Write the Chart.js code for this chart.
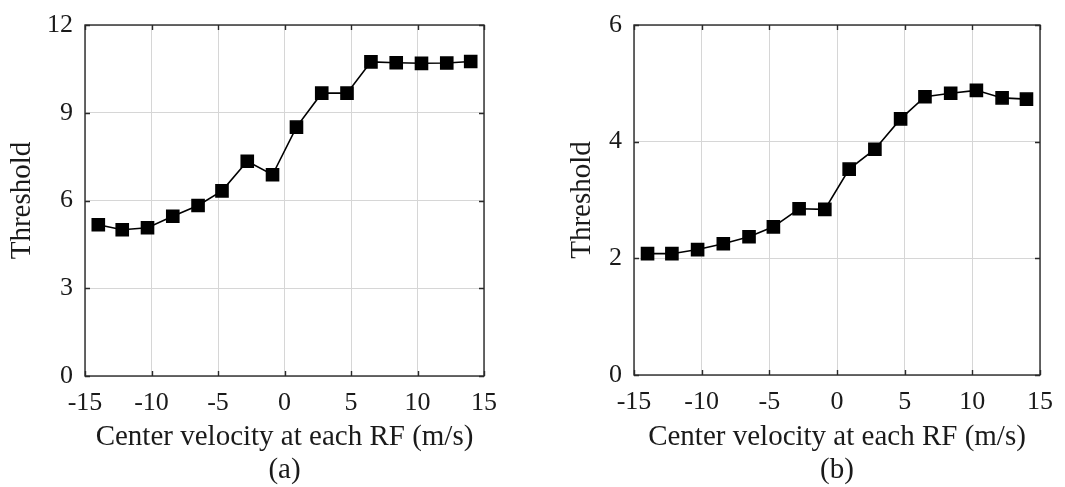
<!DOCTYPE html>
<html>
<head>
<meta charset="utf-8">
<script src="https://cdn.jsdelivr.net/npm/chart.js@4/dist/chart.umd.min.js"></script>
<style>
  html, body { margin: 0; padding: 0; background: #fff; }
  #wrap { position: relative; width: 1065px; height: 487px; }
  .box { position: absolute; top: 0; height: 487px; }
</style>
</head>
<body>
<div id="wrap">
  <div class="box" style="left:0;width:532px"><canvas id="chartA"></canvas></div>
  <div class="box" style="left:532px;width:533px"><canvas id="chartB"></canvas></div>
</div>
<script>
// center velocity of each RF (m/s), same for both panels
const velocities = [-14.0, -12.2, -10.3, -8.4, -6.5, -4.7, -2.8, -0.9, 0.9, 2.8, 4.7, 6.5, 8.4, 10.3, 12.2, 14.0];
const thresholdA = [5.17, 5.0, 5.07, 5.46, 5.83, 6.33, 7.34, 6.88, 8.51, 9.67, 9.67, 10.74, 10.71, 10.69, 10.70, 10.75];
const thresholdB = [2.08, 2.08, 2.15, 2.25, 2.37, 2.54, 2.85, 2.84, 3.53, 3.87, 4.39, 4.77, 4.83, 4.88, 4.75, 4.73];
const xTicks = [-15, -10, -5, 0, 5, 10, 15];
const yTicksA = [0, 3, 6, 9, 12];
const yTicksB = [0, 2, 4, 6];

const serif = "'Liberation Serif', 'Times New Roman', serif";
const ink = '#1a1a1a';

// box round the plot + small inward tick marks (matlab style)
const frame = {
    id: 'frame',
    beforeDatasetsDraw(chart) {
        const { ctx, chartArea: a, scales } = chart;
        ctx.save();
        ctx.strokeStyle = '#2a2a2a';
        ctx.lineWidth = 1.4;
        ctx.beginPath();
        scales.x.ticks.forEach(t => {
            const px = Math.round(scales.x.getPixelForValue(t.value)) + 0.5;
            ctx.moveTo(px, a.bottom); ctx.lineTo(px, a.bottom - 5);
            ctx.moveTo(px, a.top); ctx.lineTo(px, a.top + 5);
        });
        scales.y.ticks.forEach(t => {
            const py = Math.round(scales.y.getPixelForValue(t.value)) + 0.5;
            ctx.moveTo(a.left, py); ctx.lineTo(a.left + 5, py);
            ctx.moveTo(a.right, py); ctx.lineTo(a.right - 5, py);
        });
        ctx.stroke();
        ctx.strokeRect(a.left, a.top, a.right - a.left, a.bottom - a.top);
        ctx.restore();
    }
};

function makeChart(id, values, yTicks, yMax, caption, yWidth, padRight, xHeight, yTitlePad) {
    const points = velocities.map((v, i) => ({ x: v, y: values[i] }));
    return new Chart(document.getElementById(id), {
        type: 'line',
        data: {
            datasets: [{
                data: points,
                borderColor: '#000',
                backgroundColor: '#000',
                borderWidth: 1.6,
                pointStyle: 'rect',
                pointRadius: 8.5,
                pointHoverRadius: 8.5,
                tension: 0
            }]
        },
        options: {
            responsive: true,
            maintainAspectRatio: false,
            animation: false,
            events: [],
            layout: { padding: { top: 14, right: padRight, left: 0, bottom: 0 } },
            plugins: { legend: { display: false }, tooltip: { enabled: false } },
            scales: {
                x: {
                    type: 'linear',
                    min: -15,
                    max: 15,
                    afterBuildTicks: s => { s.ticks = xTicks.map(v => ({ value: v })); },
                    afterFit: s => { s.height = xHeight; },
                    grid: { color: '#d6d6d6', lineWidth: 1, drawTicks: false },
                    border: { display: false },
                    ticks: {
                        padding: 12,
                        color: ink,
                        font: { family: serif, size: 26 },
                        maxRotation: 0
                    },
                    title: {
                        display: true,
                        text: ['Center velocity at each RF (m/s)', caption],
                        color: ink,
                        font: { family: serif, size: 29, lineHeight: 1.14 },
                        padding: { top: 0, bottom: 0 }
                    }
                },
                y: {
                    min: 0,
                    max: yMax,
                    afterBuildTicks: s => { s.ticks = yTicks.map(v => ({ value: v })); },
                    afterFit: s => { s.width = yWidth; },
                    grid: { color: '#d6d6d6', lineWidth: 1, drawTicks: false },
                    border: { display: false },
                    ticks: {
                        padding: 12,
                        color: ink,
                        font: { family: serif, size: 26, lineHeight: 1 }
                    },
                    title: {
                        display: true,
                        text: 'Threshold',
                        color: ink,
                        font: { family: serif, size: 29, lineHeight: 1.14 },
                        padding: { top: yTitlePad, bottom: 0 }
                    }
                }
            }
        },
        plugins: [frame]
    });
}

makeChart('chartA', thresholdA, yTicksA, 12, '(a)', 85, 48, 111, 6);
makeChart('chartB', thresholdB, yTicksB, 6, '(b)', 102, 18, 112, 34);
</script>
</body>
</html>
